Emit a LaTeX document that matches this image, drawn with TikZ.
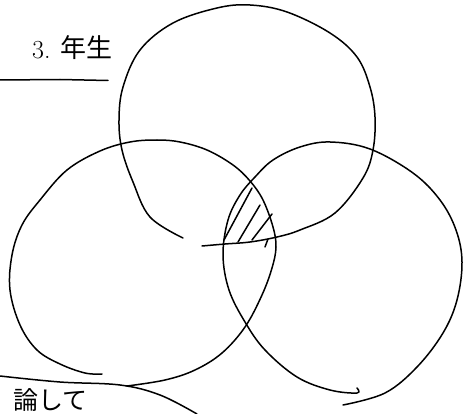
\documentclass[tikz,border=0pt]{standalone}
\usepackage{fontspec}
\newfontfamily\jpfont{Noto Sans CJK JP}
\usetikzlibrary{positioning}
\begin{document}
\begin{tikzpicture}[x=1pt,y=-1pt,node distance=6pt,
 pen/.style={line width=1.5pt,line cap=round,line join=round},
 jp/.style={font=\jpfont\fontsize{26}{26}\selectfont,inner sep=0pt},
 numlbl/.style={font=\fontsize{26}{26}\selectfont,inner sep=0pt}]
\useasboundingbox (0,0) rectangle (468,414);
% heading
\node[jp] (grade) at (86,48) {年生};
\node[numlbl,left=9pt of grade,yshift=-2pt] (three) {3.};
\draw[pen] (0,80) -- (60,79.5) -- (108,80.5);
% top circle
\draw[pen] plot[smooth,tension=.6] coordinates {(183,238) (150,217) (133,182) (122,150)
 (119,120) (123,87) (140,50) (173,23) (217,8) (250,5) (287,12) (330,33) (357,57)
 (370,87) (375,117) (373,150) (363,178) (335,213) (300,230) (277,237) (250,242)
 (225,244) (202,246)};
% left circle
\draw[pen] plot[smooth,tension=.6] coordinates {(102,374) (85,373) (60,364) (37,350)
 (20,325) (10,290) (12,255) (22,225) (40,200) (67,170) (100,151) (130,142) (157,140)
 (180,142) (207,150) (233,165) (250,181) (263,200) (273,227) (276,247) (272,268)
 (262,295) (245,327) (222,353) (195,370) (165,380) (127,386)};
% right circle
\draw[pen] plot[smooth,tension=.6] coordinates {(357,388) (357,393) (330,390)
 (297,377) (265,350) (245,322) (229,290) (223,255) (228,220) (240,195) (255,177)
 (273,160) (300,147) (330,142) (370,149) (413,173) (440,200) (456,230) (462,262)
 (457,300) (443,333) (417,367) (385,393) (343,405)};
% hatching of the common part
\draw[pen] (224,240) -- (252,188);
\draw[pen] (238,242) -- (260,205);
\draw[pen] (252,240) -- (272,214);
\draw[pen] (265,247) -- (268,239);
% lower note
\draw[pen] plot[smooth,tension=.6] coordinates {(0,376) (60,382) (120,385)
 (160,395) (197,414)};
\node[jp,font=\jpfont\fontsize{25}{25}\selectfont,anchor=east] (note) at (88,400) {論して};
\end{tikzpicture}
\end{document}
